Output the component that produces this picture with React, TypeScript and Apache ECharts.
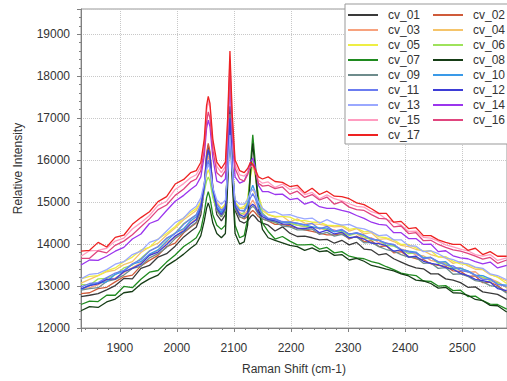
import React, { useEffect, useRef } from "react";
import * as echarts from "echarts";

const ramanShift = [
  1832, 1847, 1862, 1877, 1892, 1907, 1922, 1937, 1952, 1967, 1982, 1997, 2012,
  2024, 2034, 2042, 2048,
  2052, 2055, 2058, 2063,
  2070, 2078, 2085,
  2089, 2093, 2097,
  2102, 2110, 2118, 2124,
  2129, 2133, 2137, 2143,
  2150, 2160,
  2172, 2185, 2198, 2211, 2224, 2237, 2250, 2263, 2276, 2289, 2302, 2315, 2328, 2341, 2354, 2367,
  2380, 2393, 2406, 2419, 2432, 2445, 2458, 2471, 2484, 2497, 2510, 2523, 2536, 2549, 2562, 2578,
];

const cv01 = [12750, 12780, 12820, 12910, 13010, 13180, 13170, 13420, 13490, 13690, 13770, 13950, 14170,
  14300, 14400, 14700, 15300, 16100, 16350, 16150, 15300, 14700, 14550, 14700, 15800, 17280, 15900,
  14800, 14550, 14500, 14550, 14650, 14700, 14650, 14550, 14500, 14450,
  14310, 14410, 14260, 14180, 14190, 14150, 14100, 14110, 14020, 14090, 13980, 14040, 13880, 13860, 13740, 13770,
  13650, 13570, 13490, 13430, 13410, 13290, 13290, 13170, 13140, 13080, 12970, 12980, 12860, 12830, 12800, 12680];
const cv02 = [12820, 12840, 12940, 12970, 13100, 13220, 13260, 13480, 13610, 13730, 13940, 14020, 14270,
  14400, 14500, 14800, 15400, 16150, 16400, 16200, 15350, 14800, 14650, 14800, 15750, 17000, 15800,
  14850, 14650, 14600, 14650, 14750, 14800, 14750, 14650, 14600, 14550,
  14470, 14470, 14430, 14380, 14340, 14300, 14260, 14220, 14220, 14250, 14120, 14190, 14060, 14080, 13940, 13960,
  13790, 13820, 13700, 13650, 13630, 13530, 13490, 13470, 13360, 13350, 13230, 13240, 13080, 13090, 13010, 12850];
const cv03 = [12930, 12960, 13030, 13140, 13190, 13320, 13440, 13550, 13730, 13850, 14040, 14160, 14360,
  14500, 14600, 14850, 15300, 15900, 16100, 15950, 15250, 14850, 14700, 14850, 15700, 16800, 15750,
  14900, 14750, 14700, 14800, 14950, 15050, 14950, 14750, 14650, 14600,
  14510, 14540, 14500, 14450, 14410, 14400, 14370, 14350, 14340, 14250, 14250, 14250, 14120, 14150, 14030, 14030,
  13960, 13880, 13830, 13740, 13720, 13610, 13570, 13550, 13430, 13440, 13330, 13340, 13190, 13180, 13100, 12960];
const cv04 = [13070, 13160, 13250, 13340, 13380, 13510, 13580, 13800, 13930, 14020, 14210, 14380, 14580,
  14700, 14800, 15000, 15400, 15850, 16000, 15850, 15300, 15000, 14850, 14950, 15800, 16900, 15850,
  15000, 14850, 14850, 15000, 15250, 15300, 15200, 14950, 14800, 14700,
  14640, 14660, 14530, 14600, 14500, 14480, 14470, 14440, 14410, 14420, 14310, 14370, 14240, 14270, 14110, 14130,
  14060, 13970, 13940, 13870, 13840, 13750, 13700, 13670, 13540, 13580, 13480, 13400, 13390, 13270, 13220, 13120];
const cv05 = [13170, 13230, 13250, 13360, 13430, 13580, 13690, 13860, 13920, 14120, 14250, 14420, 14630,
  14750, 14850, 15000, 15350, 15650, 15770, 15650, 15200, 14950, 14850, 14950, 15900, 16950, 15950,
  15000, 14850, 14900, 15100, 15600, 15900, 15650, 15150, 14850, 14700,
  14660, 14660, 14640, 14560, 14560, 14520, 14520, 14450, 14440, 14450, 14350, 14380, 14290, 14300, 14170, 14150,
  14100, 13990, 13990, 13910, 13830, 13840, 13690, 13700, 13590, 13530, 13510, 13440, 13400, 13280, 13210, 13060];
const cv06 = [13040, 13020, 13170, 13180, 13270, 13430, 13500, 13660, 13840, 13930, 14130, 14260, 14490,
  14600, 14700, 14900, 15250, 15500, 15600, 15500, 15100, 14800, 14650, 14800, 15900, 17100, 15950,
  14900, 14700, 14750, 15000, 15650, 16000, 15700, 15100, 14750, 14600,
  14510, 14530, 14490, 14450, 14420, 14400, 14390, 14330, 14300, 14300, 14200, 14260, 14170, 14100, 14090, 13970,
  13950, 13870, 13770, 13790, 13680, 13680, 13540, 13530, 13400, 13420, 13350, 13250, 13210, 13130, 13080, 12970];
const cv07 = [12560, 12640, 12630, 12780, 12780, 12990, 12960, 13160, 13330, 13370, 13570, 13740, 13940,
  14050, 14150, 14350, 14750, 15100, 15250, 15100, 14700, 14450, 14350, 14450, 15600, 17100, 15700,
  14450, 14150, 14200, 14600, 15900, 16600, 16000, 15000, 14500, 14300,
  14120, 14180, 14070, 13980, 13980, 13990, 13880, 13920, 13790, 13820, 13710, 13670, 13650, 13580, 13540, 13460,
  13390, 13310, 13270, 13250, 13120, 13110, 13000, 13010, 12890, 12900, 12750, 12760, 12650, 12570, 12560, 12450];
const cv08 = [12410, 12510, 12490, 12620, 12690, 12840, 12870, 13050, 13170, 13260, 13480, 13610, 13760,
  13900, 14000, 14200, 14550, 14850, 14980, 14850, 14500, 14250, 14150, 14250, 15400, 16900, 15500,
  14250, 14000, 14050, 14450, 15700, 16400, 15800, 14850, 14350, 14150,
  14090, 14030, 13970, 13940, 13850, 13910, 13820, 13840, 13730, 13750, 13620, 13660, 13590, 13490, 13450, 13400,
  13360, 13290, 13240, 13140, 13120, 13060, 12950, 12970, 12840, 12830, 12780, 12680, 12650, 12540, 12530, 12380];
const cv09 = [12900, 12940, 12960, 13110, 13160, 13260, 13420, 13470, 13670, 13770, 13920, 14130, 14280,
  14420, 14520, 14800, 15350, 16000, 16200, 16050, 15300, 14800, 14650, 14800, 15800, 17100, 15850,
  14850, 14650, 14620, 14700, 14850, 14900, 14850, 14700, 14600, 14550,
  14520, 14430, 14410, 14340, 14340, 14360, 14230, 14280, 14190, 14230, 14140, 14170, 14030, 14040, 13940, 13870,
  13830, 13750, 13690, 13680, 13540, 13550, 13420, 13440, 13280, 13290, 13230, 13130, 13100, 13010, 12980, 12830];
const cv10 = [12920, 13020, 13070, 13100, 13280, 13350, 13520, 13580, 13760, 13860, 14070, 14260, 14370,
  14550, 14650, 14900, 15350, 15780, 15930, 15800, 15250, 14900, 14750, 14900, 15800, 16900, 15850,
  14950, 14800, 14800, 14950, 15250, 15400, 15250, 14900, 14700, 14600,
  14590, 14520, 14520, 14490, 14460, 14410, 14380, 14380, 14290, 14330, 14240, 14260, 14210, 14120, 14090, 14010,
  13980, 13860, 13830, 13810, 13670, 13680, 13570, 13580, 13430, 13420, 13360, 13260, 13250, 13170, 13040, 13020];
const cv11 = [12980, 13060, 13080, 13200, 13310, 13370, 13530, 13630, 13830, 13940, 14140, 14250, 14470,
  14600, 14700, 14950, 15400, 15850, 16000, 15850, 15300, 14950, 14800, 14900, 15700, 16700, 15750,
  14950, 14800, 14780, 14900, 15100, 15200, 15100, 14850, 14700, 14620,
  14600, 14530, 14530, 14500, 14450, 14490, 14360, 14420, 14310, 14350, 14230, 14270, 14210, 14120, 14090, 14020,
  13990, 13870, 13810, 13790, 13650, 13680, 13580, 13500, 13480, 13370, 13340, 13260, 13160, 13160, 13040, 12990];
const cv12 = [12930, 13010, 13050, 13160, 13170, 13340, 13420, 13520, 13730, 13810, 13990, 14190, 14310,
  14480, 14580, 14850, 15400, 16050, 16250, 16100, 15350, 14850, 14700, 14850, 15850, 17000, 15900,
  14900, 14700, 14650, 14750, 14900, 14950, 14900, 14750, 14650, 14580,
  14550, 14480, 14470, 14380, 14370, 14400, 14270, 14330, 14240, 14280, 14150, 14170, 14120, 14020, 14010, 13960,
  13830, 13860, 13690, 13710, 13590, 13540, 13510, 13440, 13400, 13300, 13250, 13160, 13130, 13090, 12940, 12890];
const cv13 = [13170, 13280, 13300, 13390, 13520, 13580, 13750, 13830, 14040, 14110, 14310, 14510, 14620,
  14800, 14900, 15100, 15450, 15780, 15900, 15780, 15350, 15050, 14950, 15050, 15750, 16600, 15800,
  15050, 14950, 14950, 15050, 15250, 15300, 15250, 15000, 14850, 14750,
  14770, 14690, 14700, 14640, 14600, 14620, 14500, 14580, 14500, 14450, 14470, 14390, 14360, 14290, 14200, 14220,
  14100, 14100, 13960, 13950, 13820, 13840, 13770, 13670, 13630, 13560, 13530, 13450, 13420, 13290, 13250, 13150];
const cv14 = [13500, 13620, 13610, 13710, 13830, 13920, 14120, 14240, 14490, 14570, 14800, 15020, 15160,
  15300, 15400, 15600, 16100, 16750, 16950, 16800, 16050, 15500, 15450, 15550, 16500, 17850, 16600,
  15600, 15450, 15500, 15700, 15950, 16050, 15850, 15400, 15250, 15250,
  15180, 15190, 15060, 15090, 14950, 15010, 14890, 14850, 14850, 14800, 14760, 14680, 14610, 14520, 14470, 14450,
  14270, 14270, 14130, 14130, 13990, 14000, 13820, 13840, 13720, 13670, 13650, 13580, 13530, 13570, 13430, 13490];
const cv15 = [13710, 13840, 13850, 13900, 14070, 14140, 14360, 14510, 14680, 14920, 15020, 15300, 15440,
  15580, 15650, 15850, 16400, 17150, 17420, 17250, 16400, 15850, 15700, 15850, 16850, 18400, 16950,
  15900, 15650, 15620, 15700, 15850, 15850, 15750, 15520, 15450, 15480,
  15350, 15430, 15300, 15340, 15180, 15230, 15080, 15170, 15080, 15030, 14960, 14900, 14880, 14770, 14720, 14590,
  14520, 14450, 14300, 14310, 14160, 14140, 14070, 13980, 13930, 13880, 13840, 13750, 13710, 13750, 13610, 13670];
const cv16 = [13660, 13660, 13840, 13790, 13970, 14070, 14220, 14410, 14600, 14820, 14930, 15160, 15310,
  15480, 15550, 15750, 16250, 16900, 17150, 17000, 16250, 15700, 15600, 15750, 16700, 18150, 16800,
  15800, 15550, 15500, 15650, 15850, 15900, 15750, 15450, 15380, 15400,
  15320, 15360, 15190, 15260, 15110, 15180, 15050, 15120, 14950, 15010, 14880, 14820, 14800, 14700, 14610, 14600,
  14410, 14430, 14250, 14270, 14080, 14090, 13990, 13920, 13860, 13830, 13780, 13710, 13640, 13680, 13540, 13620];
const cv17 = [13830, 13850, 14040, 13930, 14160, 14210, 14470, 14630, 14770, 15010, 15130, 15430, 15540,
  15700, 15750, 15950, 16500, 17300, 17520, 17350, 16500, 15950, 15800, 15950, 17000, 18600, 17100,
  16000, 15750, 15700, 15800, 15950, 15900, 15800, 15600, 15550, 15600,
  15490, 15470, 15370, 15400, 15220, 15330, 15180, 15260, 15140, 15130, 15080, 14980, 14940, 14840, 14730, 14730,
  14520, 14540, 14370, 14390, 14200, 14200, 14100, 14040, 13990, 13990, 13850, 13900, 13750, 13820, 13710, 13710];

const seriesNames = ["cv_01", "cv_02", "cv_03", "cv_04", "cv_05", "cv_06", "cv_07", "cv_08", "cv_09",
  "cv_10", "cv_11", "cv_12", "cv_13", "cv_14", "cv_15", "cv_16", "cv_17"];
const seriesValues = [cv01, cv02, cv03, cv04, cv05, cv06, cv07, cv08, cv09, cv10, cv11, cv12, cv13, cv14, cv15, cv16, cv17];
const seriesColors = ["#3a3a3a", "#cf5b3a", "#f7a27e", "#f5c46a", "#eeee44", "#9ee35a", "#1f8a1f", "#163d16",
  "#6e8c8c", "#3a9ae8", "#6b7cf0", "#3d3dd6", "#9aa8ff", "#9b35ee", "#ff9cc0", "#e0457e", "#ee2222"];

const FONT = "'Liberation Sans', Arial, sans-serif";

export default function App() {
  const ref = useRef<HTMLDivElement>(null);
  useEffect(() => {
    if (!ref.current) return;
    const chart = echarts.init(ref.current, undefined, { renderer: "svg" });
    chart.setOption({
      animation: false,
      backgroundColor: "#ffffff",
      textStyle: { fontFamily: FONT },
      grid: {
        left: 81, top: 9, right: -2, bottom: 53,
        show: true, borderColor: "#999999", borderWidth: 1,
      },
      legend: {
        left: 345, top: 4, width: 175,
        orient: "horizontal",
        backgroundColor: "#ffffff",
        borderColor: "#999999", borderWidth: 1,
        padding: [5, 0, 3, 3],
        icon: "rect",
        itemWidth: 30, itemHeight: 2, itemGap: 3,
        textStyle: { fontSize: 12, color: "#333333", fontFamily: FONT, width: 42, padding: [0, 0, 0, 5], lineHeight: 12 },
        data: seriesNames,
      },
      xAxis: {
        type: "value",
        min: 1832, max: 2578.5,
        splitNumber: 7,
        name: "Raman Shift (cm-1)",
        nameLocation: "middle",
        nameGap: 35,
        nameTextStyle: { fontSize: 12, color: "#333333", fontFamily: FONT },
        axisLine: { show: true, lineStyle: { color: "#808080" } },
        axisTick: { show: true, length: 4, lineStyle: { color: "#808080" } },
        minorTick: { show: true, splitNumber: 5, length: 2, lineStyle: { color: "#808080" } },
        axisLabel: {
          fontSize: 12, color: "#333333", margin: 14, showMinLabel: false, showMaxLabel: false, fontFamily: FONT,
          formatter: (v: number) => String(v),
        },
        splitLine: { show: true, lineStyle: { color: "#c8c8c8", type: "dotted" } },
      },
      yAxis: {
        type: "value",
        min: 12000, max: 19600,
        splitNumber: 8,
        name: "Relative Intensity",
        nameLocation: "middle",
        nameGap: 57,
        nameTextStyle: { fontSize: 12, color: "#333333", fontFamily: FONT },
        axisLine: { show: true, lineStyle: { color: "#808080" } },
        axisTick: { show: true, length: 4, lineStyle: { color: "#808080" } },
        minorTick: { show: true, splitNumber: 5, length: 2, lineStyle: { color: "#808080" } },
        axisLabel: {
          fontSize: 12, color: "#333333", margin: 11, showMaxLabel: false, fontFamily: FONT,
          formatter: (v: number) => String(v),
        },
        splitLine: { show: true, lineStyle: { color: "#c8c8c8", type: "dotted" } },
      },
      series: seriesNames.map((name, i) => ({
        name,
        type: "line",
        symbol: "none",
        showSymbol: false,
        color: seriesColors[i],
        lineStyle: { width: 1.3, color: seriesColors[i] },
        data: ramanShift.map((x, j) => [x, seriesValues[i][j]]),
      })),
    });
    return () => chart.dispose();
  }, []);
  return <div ref={ref} style={{ position: "fixed", left: 0, top: 0, width: 507, height: 381 }} />;
}
